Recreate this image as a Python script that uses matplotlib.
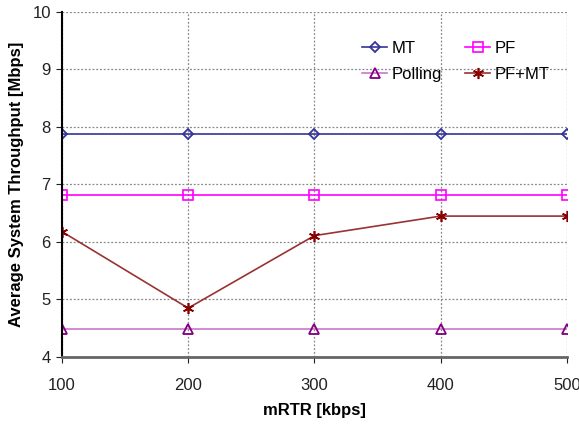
import matplotlib
matplotlib.use("Agg")
import matplotlib.pyplot as plt

plt.rcParams['font.family'] = ['Liberation Sans', 'DejaVu Sans']

x = [100, 200, 300, 400, 500]
mt = [7.87, 7.87, 7.87, 7.87, 7.87]
pf = [6.82, 6.82, 6.82, 6.82, 6.82]
polling = [4.48, 4.48, 4.48, 4.48, 4.48]
pfmt = [6.18, 4.85, 6.11, 6.45, 6.45]

fig = plt.figure(figsize=(5.79, 4.26), dpi=100)
ax = fig.add_axes([0.107, 0.162, 0.872, 0.81])

ax.plot(x, mt, color='#333399', marker='D', markersize=5, markerfacecolor='none',
        markeredgecolor='#333399', markeredgewidth=1.3, linewidth=1.2, label='MT')
ax.plot(x, pf, color='#ff00ff', marker='s', markersize=7, markerfacecolor='none',
        markeredgecolor='#ff00ff', markeredgewidth=1.2, linewidth=1.2, label='PF')
ax.plot(x, polling, color='#cc77cc', marker='^', markersize=7, markerfacecolor='none',
        markeredgecolor='#800080', markeredgewidth=1.3, linewidth=1.2, label='Polling')
ax.plot(x, pfmt, color='#993333', marker=(6, 2, 0), markersize=8,
        markeredgecolor='#880000', markeredgewidth=1.2, linewidth=1.2, label='PF+MT')

ax.set_xlim(100, 500)
ax.set_ylim(4, 10)
ax.set_xticks(x)
ax.set_yticks([4, 5, 6, 7, 8, 9, 10])
ax.grid(True, color='#888888', linestyle=(0, (1.5, 1.5)), linewidth=0.9)
for s in ['top', 'right']:
    ax.spines[s].set_visible(False)
ax.spines['left'].set_color('black')
ax.spines['left'].set_linewidth(1.5)
ax.spines['bottom'].set_color('#666666')
ax.spines['bottom'].set_linewidth(2)
ax.tick_params(axis='both', labelsize=12, colors='#222222', length=4)
ax.tick_params(axis='x', pad=11)
ax.tick_params(axis='y', pad=4)
ax.set_xlabel('mRTR [kbps]', fontsize=12, fontweight='bold', labelpad=7)
ax.set_ylabel('Average System Throughput [Mbps]', fontsize=12, fontweight='bold', labelpad=6)

handles, labels = ax.get_legend_handles_labels()
order = [0, 2, 1, 3]
ax.legend([handles[i] for i in order], [labels[i] for i in order], ncol=2,
          frameon=False, loc='upper left', bbox_to_anchor=(0.565, 0.96),
          fontsize=12, handlelength=1.5, handletextpad=0.25, columnspacing=1.4,
          labelspacing=0.65)

fig.savefig('out.png', dpi=100)
